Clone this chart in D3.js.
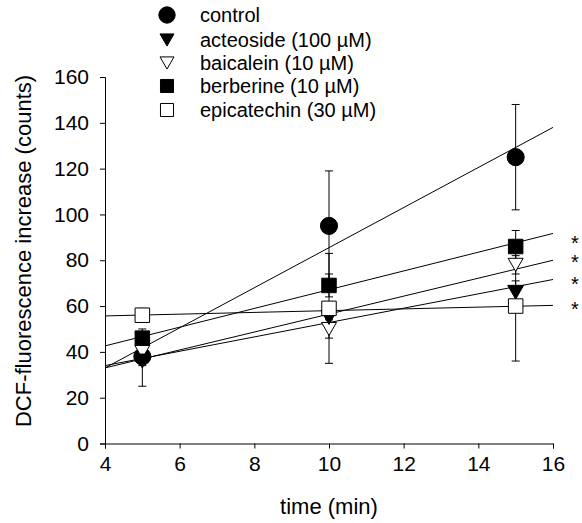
<!DOCTYPE html>
<html>
<head>
<meta charset="utf-8">
<title>DCF fluorescence</title>
<style>
body { margin: 0; background: #fff; }
text { font-family: Arial, "Liberation Sans", Helvetica, sans-serif; fill: #000; }
</style>
</head>
<body>
<script src="https://cdn.jsdelivr.net/npm/d3@7/dist/d3.min.js"></script>
<script>
// data
var times = [5, 10, 15];
var seriesNames = ["control", "acteoside (100 \u00b5M)", "baicalein (10 \u00b5M)", "berberine (10 \u00b5M)", "epicatechin (30 \u00b5M)"];
var control = [38, 95, 125];
var acteoside = [36, 55, 66];
var baicalein = [40, 50, 78];
var berberine = [46, 69, 86];
var epicatechin = [56, 59, 60];
var controlErr = [4, 24, 23];
var acteosideErr = [11, 3, 5];
var baicaleinErr = [4, 4, 4];
var berberineErr = [4, 5, 7];
var epicatechinErr = [3, 24, 24];
// regression lines: value at t=4 and at t=16
var fitStart = [33, 34, 33, 42.6, 55.7];
var fitEnd = [138, 71.6, 80, 91.7, 60.3];
var xTicks = [4, 6, 8, 10, 12, 14, 16];
var yTicks = [0, 20, 40, 60, 80, 100, 120, 140, 160];
var starValues = [89.7, 81, 71.8, 60.9];

var values = [control, acteoside, baicalein, berberine, epicatechin];
var errors = [controlErr, acteosideErr, baicaleinErr, berberineErr, epicatechinErr];
var symbols = [
    { type: d3.symbolCircle, fill: "#000", size: 230 },
    { type: "tri", fill: "#000", size: 16 },
    { type: "tri", fill: "#fff", size: 15 },
    { type: d3.symbolSquare, fill: "#000", size: 210 },
    { type: d3.symbolSquare, fill: "#fff", size: 210 }
];

var width = 582, height = 523;
var svg = d3.select("body").append("svg")
    .attr("width", width)
    .attr("height", height);

var x = d3.scaleLinear().domain([4, 16]).range([105, 553]);
var y = d3.scaleLinear().domain([0, 160]).range([443.5, 77]);

function marker(g, s, cx, cy) {
    if (s.type === "tri") {
        var w = s.size / 2, h = s.size * 0.87;
        g.append("path")
            .attr("d", "M" + (cx - w) + "," + (cy - h / 2) + "L" + (cx + w) + "," + (cy - h / 2) + "L" + cx + "," + (cy + h / 2) + "Z")
            .attr("fill", s.fill).attr("stroke", "#000").attr("stroke-width", 1);
    } else {
        g.append("path")
            .attr("d", d3.symbol().type(s.type).size(s.size)())
            .attr("transform", "translate(" + cx + "," + cy + ")")
            .attr("fill", s.fill).attr("stroke", "#000").attr("stroke-width", 1);
    }
}

// axes
var xAxis = svg.append("g")
    .attr("transform", "translate(0," + y(0) + ")")
    .call(d3.axisBottom(x).tickValues(xTicks).tickSize(5).tickPadding(8).tickFormat(d3.format("d")));
var yAxis = svg.append("g")
    .attr("transform", "translate(" + x(4) + ",0)")
    .call(d3.axisLeft(y).tickValues(yTicks).tickSize(5).tickPadding(11).tickFormat(d3.format("d")));
[xAxis, yAxis].forEach(function(a) {
    a.select(".domain").attr("stroke", "#000");
    a.selectAll(".tick line").attr("stroke", "#000");
    a.selectAll(".tick text").style("font-size", "21px").style("font-family", "Arial, 'Liberation Sans', sans-serif");
});

// fit lines
var fits = svg.append("g");
fitStart.forEach(function(v, i) {
    fits.append("line")
        .attr("x1", x(4)).attr("y1", y(v))
        .attr("x2", x(16)).attr("y2", y(fitEnd[i]))
        .attr("stroke", "#000").attr("stroke-width", 1);
});

// error bars
var bars = svg.append("g").attr("stroke", "#000").attr("stroke-width", 1);
values.forEach(function(vals, i) {
    vals.forEach(function(v, j) {
        var e = errors[i][j], cx = x(times[j]);
        bars.append("line").attr("x1", cx).attr("x2", cx).attr("y1", y(v - e)).attr("y2", y(v + e));
        bars.append("line").attr("x1", cx - 4).attr("x2", cx + 4).attr("y1", y(v - e)).attr("y2", y(v - e));
        bars.append("line").attr("x1", cx - 4).attr("x2", cx + 4).attr("y1", y(v + e)).attr("y2", y(v + e));
    });
});

// markers; acteoside sits above baicalein where they overlap
var marks = svg.append("g");
var drawOrder = [0, 2, 1, 3, 4];
drawOrder.forEach(function(i) {
    values[i].forEach(function(v, j) {
        marker(marks, symbols[i], x(times[j]), y(v));
    });
});

// asterisks
svg.selectAll(".star").data(starValues).enter().append("text")
    .attr("class", "star")
    .attr("x", 575)
    .attr("y", function(d) { return y(d) + 11.5; })
    .attr("text-anchor", "middle")
    .style("font-size", "20px")
    .text("*");

// legend
var legendY = [15, 40, 63, 86, 110];
var legend = svg.append("g");
seriesNames.forEach(function(name, i) {
    var s = symbols[i];
    var sl = { type: s.type, fill: s.fill, size: s.type === "tri" ? 14 : (s.type === d3.symbolCircle ? 210 : 170) };
    marker(legend, sl, 167, legendY[i]);
    legend.append("text")
        .attr("x", 200).attr("y", legendY[i])
        .attr("dy", "0.35em")
        .style("font-size", "20px")
        .text(name);
});

// axis titles
svg.append("text")
    .attr("x", 329).attr("y", 506)
    .attr("dy", "0.35em")
    .attr("text-anchor", "middle")
    .style("font-size", "22px")
    .text("time (min)");
svg.append("text")
    .attr("transform", "translate(23,251) rotate(-90)")
    .attr("dy", "0.35em")
    .attr("text-anchor", "middle")
    .style("font-size", "22px")
    .text("DCF-fluorescence increase (counts)");
</script>
</body>
</html>
